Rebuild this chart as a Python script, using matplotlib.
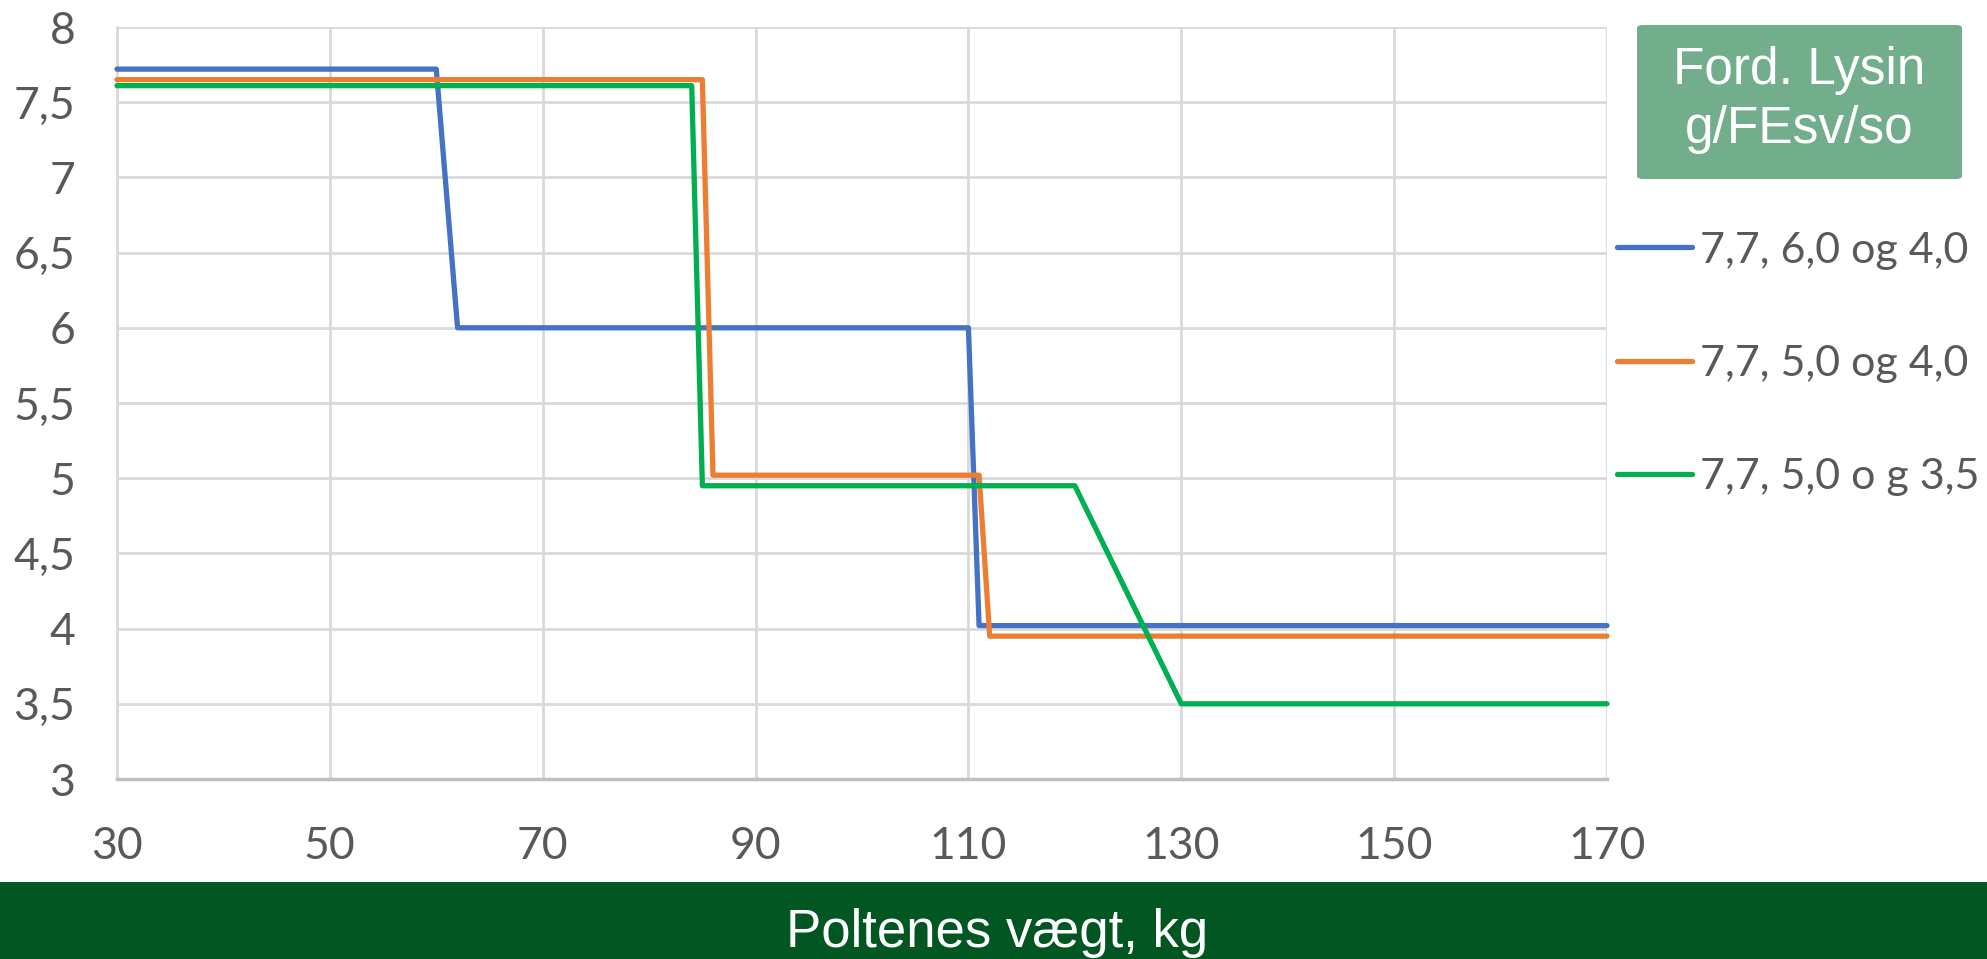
import numpy as np
import matplotlib
matplotlib.use("Agg")
from matplotlib import pyplot as plt
from matplotlib.patches import Rectangle, FancyBboxPatch
from matplotlib.ticker import FuncFormatter

# Data (weight in kg, lysine g/FEsv/so)
blue_x = [30, 60, 62, 110, 111, 170]
blue_y = [7.72, 7.72, 6.0, 6.0, 4.02, 4.02]
orange_x = [30, 85, 86, 111, 112, 170]
orange_y = [7.65, 7.65, 5.02, 5.02, 3.95, 3.95]
green_x = [30, 84, 85, 120, 130, 170]
green_y = [7.61, 7.61, 4.95, 4.95, 3.5, 3.5]

labels = ["7,7, 6,0 og 4,0", "7,7, 5,0 og 4,0", "7,7, 5,0 o g 3,5"]
colors = ["#4472C4", "#ED7D31", "#00B050"]
x_ticks = [30, 50, 70, 90, 110, 130, 150, 170]
y_ticks = [3, 3.5, 4, 4.5, 5, 5.5, 6, 6.5, 7, 7.5, 8]

tick_font = "Lato"
tick_color = "#595959"

W, H = 1987, 959
fig = plt.figure(figsize=(W / 100, H / 100), dpi=100)
ax = fig.add_axes([117 / W, 1 - 779 / H, (1607 - 117) / W, (779 - 27) / H])

series = [(blue_x, blue_y), (orange_x, orange_y), (green_x, green_y)]
for (xs, ys), lab, col in zip(series, labels, colors):
	ax.plot(xs, ys, color=col, lw=3.8, label=lab, solid_joinstyle="round",
		solid_capstyle="round", clip_on=False, zorder=3)

ax.set_xlim(30, 170)
ax.set_ylim(3, 8)
ax.set_xticks(x_ticks)
ax.set_yticks(y_ticks)
ax.yaxis.set_major_formatter(FuncFormatter(lambda v, p: ("%g" % v).replace(".", ",")))
ax.grid(True, color="#D9D9D9", lw=2)
ax.set_axisbelow(True)
for s in ["top", "right"]:
	ax.spines[s].set_visible(False)
ax.spines["left"].set_color("#D9D9D9")
ax.spines["left"].set_linewidth(2)
ax.spines["bottom"].set_color("#BFBFBF")
ax.spines["bottom"].set_linewidth(2.5)
ax.tick_params(length=0, labelsize=32, labelcolor=tick_color)
ax.tick_params(axis="y", pad=30)
ax.tick_params(axis="x", pad=34)
for t in ax.get_xticklabels() + ax.get_yticklabels():
	t.set_fontfamily(tick_font)

# legend
leg = ax.legend(loc="upper left", bbox_to_anchor=(1595 / W, 1 - 210 / H),
	bbox_transform=fig.transFigure, frameon=False, prop={"family": tick_font, "size": 31},
	handlelength=1.75, handletextpad=0.2, labelspacing=1.75, borderpad=0)
for t in leg.get_texts():
	t.set_color(tick_color)

# legend title box
fig.patches.append(FancyBboxPatch((1637 / W, 1 - 179 / H), 325 / W, 154 / H,
	boxstyle="round,pad=0,rounding_size=0.003", fc="#72AE8B", ec="none",
	transform=fig.transFigure, figure=fig))
fig.text(1799 / W, 1 - 100 / H, "Ford. Lysin\ng/FEsv/so", color="white",
	fontsize=37, family="Liberation Sans", ha="center", va="center", linespacing=1.28)

# x axis title bar
fig.patches.append(Rectangle((0, 0), 1, 77 / H, fc="#025621", ec="none",
	transform=fig.transFigure, figure=fig))
fig.text(997 / W, 12 / H, "Poltenes vægt, kg", color="white", fontsize=38,
	family="Liberation Sans", ha="center", va="baseline")

fig.savefig("out.png", dpi=100)
